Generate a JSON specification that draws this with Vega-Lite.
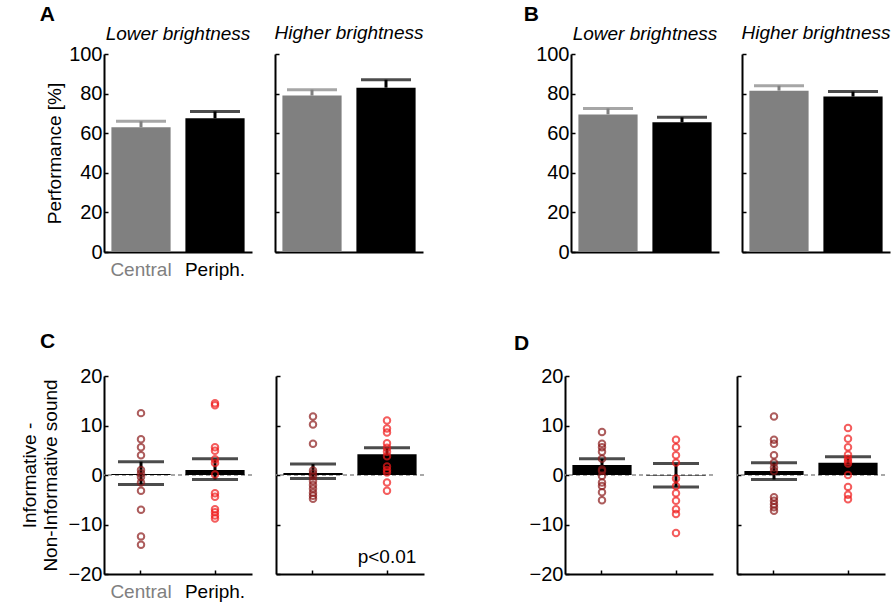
{
  "$schema": "https://vega.github.io/schema/vega-lite/v6.json",
  "padding": {"left": 20, "top": 4, "right": 4, "bottom": 4},
  "background": "white",
  "datasets": {
    "m": [
      {"p": "A", "b": "Lower", "c": "Central", "mean": 63, "hi": 66},
      {"p": "A", "b": "Lower", "c": "Periph.", "mean": 67.5, "hi": 71},
      {"p": "A", "b": "Higher", "c": "Central", "mean": 79, "hi": 82},
      {"p": "A", "b": "Higher", "c": "Periph.", "mean": 83, "hi": 87},
      {"p": "B", "b": "Lower", "c": "Central", "mean": 69.5, "hi": 72.5},
      {"p": "B", "b": "Lower", "c": "Periph.", "mean": 65.5, "hi": 68},
      {"p": "B", "b": "Higher", "c": "Central", "mean": 81.5, "hi": 84},
      {"p": "B", "b": "Higher", "c": "Periph.", "mean": 78.5, "hi": 81},
      {"p": "C", "b": "Lower", "c": "Central", "mean": 0.2, "lo": -1.9, "hi": 2.7},
      {"p": "C", "b": "Lower", "c": "Periph.", "mean": 1.0, "lo": -0.9, "hi": 3.3},
      {"p": "C", "b": "Higher", "c": "Central", "mean": 0.4, "lo": -0.7, "hi": 2.2},
      {"p": "C", "b": "Higher", "c": "Periph.", "mean": 4.2, "lo": 3.0, "hi": 5.5},
      {"p": "D", "b": "Lower", "c": "Central", "mean": 2.0, "lo": 0.7, "hi": 3.3},
      {"p": "D", "b": "Lower", "c": "Periph.", "mean": -0.1, "lo": -2.4, "hi": 2.3},
      {"p": "D", "b": "Higher", "c": "Central", "mean": 0.8, "lo": -0.9, "hi": 2.5},
      {"p": "D", "b": "Higher", "c": "Periph.", "mean": 2.5, "lo": 1.2, "hi": 3.7}
    ],
    "pts": [
      {"p": "C", "b": "Lower", "c": "Central", "v": 12.5},
      {"p": "C", "b": "Lower", "c": "Central", "v": 7.2},
      {"p": "C", "b": "Lower", "c": "Central", "v": 5.6},
      {"p": "C", "b": "Lower", "c": "Central", "v": 4.0},
      {"p": "C", "b": "Lower", "c": "Central", "v": 1.0},
      {"p": "C", "b": "Lower", "c": "Central", "v": 0.3},
      {"p": "C", "b": "Lower", "c": "Central", "v": -0.4},
      {"p": "C", "b": "Lower", "c": "Central", "v": -1.5},
      {"p": "C", "b": "Lower", "c": "Central", "v": -3.2},
      {"p": "C", "b": "Lower", "c": "Central", "v": -7.0},
      {"p": "C", "b": "Lower", "c": "Central", "v": -12.4},
      {"p": "C", "b": "Lower", "c": "Central", "v": -14.1},
      {"p": "C", "b": "Lower", "c": "Periph.", "v": 14.5},
      {"p": "C", "b": "Lower", "c": "Periph.", "v": 14.1},
      {"p": "C", "b": "Lower", "c": "Periph.", "v": 5.6},
      {"p": "C", "b": "Lower", "c": "Periph.", "v": 4.9},
      {"p": "C", "b": "Lower", "c": "Periph.", "v": 3.2},
      {"p": "C", "b": "Lower", "c": "Periph.", "v": 2.4},
      {"p": "C", "b": "Lower", "c": "Periph.", "v": 0.1},
      {"p": "C", "b": "Lower", "c": "Periph.", "v": -3.7},
      {"p": "C", "b": "Lower", "c": "Periph.", "v": -4.4},
      {"p": "C", "b": "Lower", "c": "Periph.", "v": -6.9},
      {"p": "C", "b": "Lower", "c": "Periph.", "v": -7.5},
      {"p": "C", "b": "Lower", "c": "Periph.", "v": -8.2},
      {"p": "C", "b": "Lower", "c": "Periph.", "v": -8.8},
      {"p": "C", "b": "Higher", "c": "Central", "v": 11.8},
      {"p": "C", "b": "Higher", "c": "Central", "v": 10.2},
      {"p": "C", "b": "Higher", "c": "Central", "v": 6.3},
      {"p": "C", "b": "Higher", "c": "Central", "v": 0.9},
      {"p": "C", "b": "Higher", "c": "Central", "v": 0.3},
      {"p": "C", "b": "Higher", "c": "Central", "v": -0.3},
      {"p": "C", "b": "Higher", "c": "Central", "v": -1.2},
      {"p": "C", "b": "Higher", "c": "Central", "v": -2.0},
      {"p": "C", "b": "Higher", "c": "Central", "v": -2.8},
      {"p": "C", "b": "Higher", "c": "Central", "v": -3.6},
      {"p": "C", "b": "Higher", "c": "Central", "v": -4.2},
      {"p": "C", "b": "Higher", "c": "Central", "v": -4.8},
      {"p": "C", "b": "Higher", "c": "Periph.", "v": 11.0},
      {"p": "C", "b": "Higher", "c": "Periph.", "v": 9.4},
      {"p": "C", "b": "Higher", "c": "Periph.", "v": 8.6},
      {"p": "C", "b": "Higher", "c": "Periph.", "v": 6.4},
      {"p": "C", "b": "Higher", "c": "Periph.", "v": 5.5},
      {"p": "C", "b": "Higher", "c": "Periph.", "v": 4.7},
      {"p": "C", "b": "Higher", "c": "Periph.", "v": 3.8},
      {"p": "C", "b": "Higher", "c": "Periph.", "v": 1.7},
      {"p": "C", "b": "Higher", "c": "Periph.", "v": 1.0},
      {"p": "C", "b": "Higher", "c": "Periph.", "v": 0.5},
      {"p": "C", "b": "Higher", "c": "Periph.", "v": -1.5},
      {"p": "C", "b": "Higher", "c": "Periph.", "v": -3.2},
      {"p": "D", "b": "Lower", "c": "Central", "v": 8.7},
      {"p": "D", "b": "Lower", "c": "Central", "v": 6.3},
      {"p": "D", "b": "Lower", "c": "Central", "v": 5.6},
      {"p": "D", "b": "Lower", "c": "Central", "v": 4.7},
      {"p": "D", "b": "Lower", "c": "Central", "v": 3.3},
      {"p": "D", "b": "Lower", "c": "Central", "v": 1.1},
      {"p": "D", "b": "Lower", "c": "Central", "v": 0.8},
      {"p": "D", "b": "Lower", "c": "Central", "v": -0.2},
      {"p": "D", "b": "Lower", "c": "Central", "v": -1.5},
      {"p": "D", "b": "Lower", "c": "Central", "v": -2.2},
      {"p": "D", "b": "Lower", "c": "Central", "v": -3.5},
      {"p": "D", "b": "Lower", "c": "Central", "v": -5.1},
      {"p": "D", "b": "Lower", "c": "Periph.", "v": 7.1},
      {"p": "D", "b": "Lower", "c": "Periph.", "v": 5.6},
      {"p": "D", "b": "Lower", "c": "Periph.", "v": 4.0},
      {"p": "D", "b": "Lower", "c": "Periph.", "v": 2.5},
      {"p": "D", "b": "Lower", "c": "Periph.", "v": -0.7},
      {"p": "D", "b": "Lower", "c": "Periph.", "v": -2.2},
      {"p": "D", "b": "Lower", "c": "Periph.", "v": -3.7},
      {"p": "D", "b": "Lower", "c": "Periph.", "v": -5.2},
      {"p": "D", "b": "Lower", "c": "Periph.", "v": -6.9},
      {"p": "D", "b": "Lower", "c": "Periph.", "v": -7.9},
      {"p": "D", "b": "Lower", "c": "Periph.", "v": -11.7},
      {"p": "D", "b": "Higher", "c": "Central", "v": 11.8},
      {"p": "D", "b": "Higher", "c": "Central", "v": 7.1},
      {"p": "D", "b": "Higher", "c": "Central", "v": 6.3},
      {"p": "D", "b": "Higher", "c": "Central", "v": 4.0},
      {"p": "D", "b": "Higher", "c": "Central", "v": 2.5},
      {"p": "D", "b": "Higher", "c": "Central", "v": 1.5},
      {"p": "D", "b": "Higher", "c": "Central", "v": 0.8},
      {"p": "D", "b": "Higher", "c": "Central", "v": -4.5},
      {"p": "D", "b": "Higher", "c": "Central", "v": -5.2},
      {"p": "D", "b": "Higher", "c": "Central", "v": -5.9},
      {"p": "D", "b": "Higher", "c": "Central", "v": -6.5},
      {"p": "D", "b": "Higher", "c": "Central", "v": -7.2},
      {"p": "D", "b": "Higher", "c": "Periph.", "v": 9.5},
      {"p": "D", "b": "Higher", "c": "Periph.", "v": 7.3},
      {"p": "D", "b": "Higher", "c": "Periph.", "v": 5.6},
      {"p": "D", "b": "Higher", "c": "Periph.", "v": 4.1},
      {"p": "D", "b": "Higher", "c": "Periph.", "v": 3.3},
      {"p": "D", "b": "Higher", "c": "Periph.", "v": 2.8},
      {"p": "D", "b": "Higher", "c": "Periph.", "v": 2.3},
      {"p": "D", "b": "Higher", "c": "Periph.", "v": 0.0},
      {"p": "D", "b": "Higher", "c": "Periph.", "v": -2.4},
      {"p": "D", "b": "Higher", "c": "Periph.", "v": -4.0},
      {"p": "D", "b": "Higher", "c": "Periph.", "v": -4.9}
    ]
  },
  "vconcat": [
    {
      "spacing": 99,
      "hconcat": [
        {
          "title": {"text": "A", "anchor": "start", "fontSize": 21, "fontWeight": "bold", "fontStyle": "normal", "offset": -1, "dx": -6},
          "spacing": 22,
          "hconcat": [
            {
              "width": 148, "height": 198,
              "title": {"text": "Lower brightness", "offset": 0},
              "data": {"name": "m"},
              "transform": [{"filter": "datum.p == 'A' && datum.b == 'Lower'"}],
              "encoding": {
                "x": {"field": "c", "type": "nominal", "scale": {"domain": ["Central", "Periph."], "paddingInner": 0.2, "paddingOuter": 0.1},
                  "axis": {"title": null, "labelAngle": 0, "labelColor": {"condition": {"test": "datum.value == 'Central'", "value": "#808080"}, "value": "black"}}},
                "color": {"condition": {"test": "datum.c == 'Central'", "value": "#808080"}, "value": "#000000"}
              },
              "layer": [
                {"mark": "bar", "encoding": {"y": {"field": "mean", "type": "quantitative", "scale": {"domain": [0, 100]}, "axis": {"values": [0, 20, 40, 60, 80, 100], "tickCount": 6, "title": "Performance [%]", "titlePadding": 4}}}},
                {"mark": {"type": "rule", "strokeWidth": 3}, "encoding": {"y": {"field": "mean", "type": "quantitative"}, "y2": {"field": "hi"}}},
                {"mark": {"type": "tick", "thickness": 3, "size": 50}, "encoding": {"y": {"field": "hi", "type": "quantitative"}}}
              ]
            },
            {
              "width": 148, "height": 198,
              "title": {"text": "Higher brightness", "offset": 10},
              "data": {"name": "m"},
              "transform": [{"filter": "datum.p == 'A' && datum.b == 'Higher'"}],
              "encoding": {
                "x": {"field": "c", "type": "nominal", "scale": {"domain": ["Central", "Periph."], "paddingInner": 0.2, "paddingOuter": 0.1}, "axis": {"title": null, "labels": false}},
                "color": {"condition": {"test": "datum.c == 'Central'", "value": "#808080"}, "value": "#000000"}
              },
              "layer": [
                {"mark": "bar", "encoding": {"y": {"field": "mean", "type": "quantitative", "scale": {"domain": [0, 100]}, "axis": {"values": [0, 20, 40, 60, 80, 100], "tickCount": 6, "title": null, "labels": false}}}},
                {"mark": {"type": "rule", "strokeWidth": 3}, "encoding": {"y": {"field": "mean", "type": "quantitative"}, "y2": {"field": "hi"}}},
                {"mark": {"type": "tick", "thickness": 3, "size": 50}, "encoding": {"y": {"field": "hi", "type": "quantitative"}}}
              ]
            }
          ]
        },
        {
          "title": {"text": "B", "anchor": "start", "fontSize": 21, "fontWeight": "bold", "fontStyle": "normal", "offset": -1, "dx": -12},
          "spacing": 22,
          "hconcat": [
            {
              "width": 148, "height": 198,
              "title": {"text": "Lower brightness", "offset": 0},
              "data": {"name": "m"},
              "transform": [{"filter": "datum.p == 'B' && datum.b == 'Lower'"}],
              "encoding": {
                "x": {"field": "c", "type": "nominal", "scale": {"domain": ["Central", "Periph."], "paddingInner": 0.2, "paddingOuter": 0.1}, "axis": {"title": null, "labels": false}},
                "color": {"condition": {"test": "datum.c == 'Central'", "value": "#808080"}, "value": "#000000"}
              },
              "layer": [
                {"mark": "bar", "encoding": {"y": {"field": "mean", "type": "quantitative", "scale": {"domain": [0, 100]}, "axis": {"values": [0, 20, 40, 60, 80, 100], "tickCount": 6, "title": null}}}},
                {"mark": {"type": "rule", "strokeWidth": 3}, "encoding": {"y": {"field": "mean", "type": "quantitative"}, "y2": {"field": "hi"}}},
                {"mark": {"type": "tick", "thickness": 3, "size": 50}, "encoding": {"y": {"field": "hi", "type": "quantitative"}}}
              ]
            },
            {
              "width": 148, "height": 198,
              "title": {"text": "Higher brightness", "offset": 10},
              "data": {"name": "m"},
              "transform": [{"filter": "datum.p == 'B' && datum.b == 'Higher'"}],
              "encoding": {
                "x": {"field": "c", "type": "nominal", "scale": {"domain": ["Central", "Periph."], "paddingInner": 0.2, "paddingOuter": 0.1}, "axis": {"title": null, "labels": false}},
                "color": {"condition": {"test": "datum.c == 'Central'", "value": "#808080"}, "value": "#000000"}
              },
              "layer": [
                {"mark": "bar", "encoding": {"y": {"field": "mean", "type": "quantitative", "scale": {"domain": [0, 100]}, "axis": {"values": [0, 20, 40, 60, 80, 100], "tickCount": 6, "title": null, "labels": false}}}},
                {"mark": {"type": "rule", "strokeWidth": 3}, "encoding": {"y": {"field": "mean", "type": "quantitative"}, "y2": {"field": "hi"}}},
                {"mark": {"type": "tick", "thickness": 3, "size": 50}, "encoding": {"y": {"field": "hi", "type": "quantitative"}}}
              ]
            }
          ]
        }
      ]
    },
    {
      "spacing": 89,
      "hconcat": [
        {
          "title": {"text": "C", "anchor": "start", "fontSize": 21, "fontWeight": "bold", "fontStyle": "normal", "offset": 14, "dx": 20},
          "spacing": 22,
          "hconcat": [
            {
              "width": 148, "height": 198,
              "data": {"name": "m"},
              "transform": [{"filter": "datum.p == 'C' && datum.b == 'Lower'"}],
              "layer": [
                {"mark": {"type": "rule", "color": "#8c8c8c", "strokeDash": [4, 3], "strokeWidth": 1.2}, "encoding": {"y": {"datum": 0, "type": "quantitative"}}},
                {"mark": {"type": "bar", "color": "black"}, "encoding": {
                  "x": {"field": "c", "type": "nominal", "scale": {"domain": ["Central", "Periph."], "paddingInner": 0.2, "paddingOuter": 0.1},
                    "axis": {"title": null, "labelAngle": 0, "labelColor": {"condition": {"test": "datum.value == 'Central'", "value": "#808080"}, "value": "black"}}},
                  "y": {"field": "mean", "type": "quantitative", "scale": {"domain": [-20, 20]}, "axis": {"values": [-20, -10, 0, 10, 20], "tickCount": 5, "title": ["Informative -", "Non-Informative sound"], "titlePadding": 8}}}},
                {"mark": {"type": "rule", "color": "black", "strokeWidth": 3}, "encoding": {"x": {"field": "c", "type": "nominal"}, "y": {"field": "lo", "type": "quantitative"}, "y2": {"field": "hi"}}},
                {"mark": {"type": "tick", "color": "black", "thickness": 3, "size": 46}, "encoding": {"x": {"field": "c", "type": "nominal"}, "y": {"field": "lo", "type": "quantitative"}}},
                {"mark": {"type": "tick", "color": "black", "thickness": 3, "size": 46}, "encoding": {"x": {"field": "c", "type": "nominal"}, "y": {"field": "hi", "type": "quantitative"}}},
                {"data": {"name": "pts"}, "transform": [{"filter": "datum.p == 'C' && datum.b == 'Lower'"}],
                  "mark": {"type": "point", "shape": "circle", "filled": false, "size": 42, "strokeWidth": 2},
                  "encoding": {"x": {"field": "c", "type": "nominal"}, "y": {"field": "v", "type": "quantitative"},
                    "color": {"condition": {"test": "datum.c == 'Central'", "value": "#8b1a1a"}, "value": "#f01a1a"}}}
              ]
            },
            {
              "width": 148, "height": 198,
              "data": {"name": "m"},
              "transform": [{"filter": "datum.p == 'C' && datum.b == 'Higher'"}],
              "layer": [
                {"mark": {"type": "rule", "color": "#8c8c8c", "strokeDash": [4, 3], "strokeWidth": 1.2}, "encoding": {"y": {"datum": 0, "type": "quantitative"}}},
                {"mark": {"type": "bar", "color": "black"}, "encoding": {
                  "x": {"field": "c", "type": "nominal", "scale": {"domain": ["Central", "Periph."], "paddingInner": 0.2, "paddingOuter": 0.1}, "axis": {"title": null, "labels": false}},
                  "y": {"field": "mean", "type": "quantitative", "scale": {"domain": [-20, 20]}, "axis": {"values": [-20, -10, 0, 10, 20], "tickCount": 5, "title": null, "labels": false}}}},
                {"mark": {"type": "rule", "color": "black", "strokeWidth": 3}, "encoding": {"x": {"field": "c", "type": "nominal"}, "y": {"field": "lo", "type": "quantitative"}, "y2": {"field": "hi"}}},
                {"mark": {"type": "tick", "color": "black", "thickness": 3, "size": 46}, "encoding": {"x": {"field": "c", "type": "nominal"}, "y": {"field": "lo", "type": "quantitative"}}},
                {"mark": {"type": "tick", "color": "black", "thickness": 3, "size": 46}, "encoding": {"x": {"field": "c", "type": "nominal"}, "y": {"field": "hi", "type": "quantitative"}}},
                {"data": {"name": "pts"}, "transform": [{"filter": "datum.p == 'C' && datum.b == 'Higher'"}],
                  "mark": {"type": "point", "shape": "circle", "filled": false, "size": 42, "strokeWidth": 2},
                  "encoding": {"x": {"field": "c", "type": "nominal"}, "y": {"field": "v", "type": "quantitative"},
                    "color": {"condition": {"test": "datum.c == 'Central'", "value": "#8b1a1a"}, "value": "#f01a1a"}}},
                {"data": {"values": [{"t": "p<0.01"}]},
                  "mark": {"type": "text", "fontSize": 19, "color": "black"},
                  "encoding": {"x": {"datum": "Periph.", "type": "nominal"}, "y": {"datum": -16.5, "type": "quantitative"}, "text": {"field": "t"}}}
              ]
            }
          ]
        },
        {
          "title": {"text": "D", "anchor": "start", "fontSize": 21, "fontWeight": "bold", "fontStyle": "normal", "offset": 12, "dx": -15},
          "spacing": 22,
          "hconcat": [
            {
              "width": 148, "height": 198,
              "data": {"name": "m"},
              "transform": [{"filter": "datum.p == 'D' && datum.b == 'Lower'"}],
              "layer": [
                {"mark": {"type": "rule", "color": "#8c8c8c", "strokeDash": [4, 3], "strokeWidth": 1.2}, "encoding": {"y": {"datum": 0, "type": "quantitative"}}},
                {"mark": {"type": "bar", "color": "black"}, "encoding": {
                  "x": {"field": "c", "type": "nominal", "scale": {"domain": ["Central", "Periph."], "paddingInner": 0.2, "paddingOuter": 0.1}, "axis": {"title": null, "labels": false}},
                  "y": {"field": "mean", "type": "quantitative", "scale": {"domain": [-20, 20]}, "axis": {"values": [-20, -10, 0, 10, 20], "tickCount": 5, "title": null}}}},
                {"mark": {"type": "rule", "color": "black", "strokeWidth": 3}, "encoding": {"x": {"field": "c", "type": "nominal"}, "y": {"field": "lo", "type": "quantitative"}, "y2": {"field": "hi"}}},
                {"mark": {"type": "tick", "color": "black", "thickness": 3, "size": 46}, "encoding": {"x": {"field": "c", "type": "nominal"}, "y": {"field": "lo", "type": "quantitative"}}},
                {"mark": {"type": "tick", "color": "black", "thickness": 3, "size": 46}, "encoding": {"x": {"field": "c", "type": "nominal"}, "y": {"field": "hi", "type": "quantitative"}}},
                {"data": {"name": "pts"}, "transform": [{"filter": "datum.p == 'D' && datum.b == 'Lower'"}],
                  "mark": {"type": "point", "shape": "circle", "filled": false, "size": 42, "strokeWidth": 2},
                  "encoding": {"x": {"field": "c", "type": "nominal"}, "y": {"field": "v", "type": "quantitative"},
                    "color": {"condition": {"test": "datum.c == 'Central'", "value": "#8b1a1a"}, "value": "#f01a1a"}}}
              ]
            },
            {
              "width": 148, "height": 198,
              "data": {"name": "m"},
              "transform": [{"filter": "datum.p == 'D' && datum.b == 'Higher'"}],
              "layer": [
                {"mark": {"type": "rule", "color": "#8c8c8c", "strokeDash": [4, 3], "strokeWidth": 1.2}, "encoding": {"y": {"datum": 0, "type": "quantitative"}}},
                {"mark": {"type": "bar", "color": "black"}, "encoding": {
                  "x": {"field": "c", "type": "nominal", "scale": {"domain": ["Central", "Periph."], "paddingInner": 0.2, "paddingOuter": 0.1}, "axis": {"title": null, "labels": false}},
                  "y": {"field": "mean", "type": "quantitative", "scale": {"domain": [-20, 20]}, "axis": {"values": [-20, -10, 0, 10, 20], "tickCount": 5, "title": null, "labels": false}}}},
                {"mark": {"type": "rule", "color": "black", "strokeWidth": 3}, "encoding": {"x": {"field": "c", "type": "nominal"}, "y": {"field": "lo", "type": "quantitative"}, "y2": {"field": "hi"}}},
                {"mark": {"type": "tick", "color": "black", "thickness": 3, "size": 46}, "encoding": {"x": {"field": "c", "type": "nominal"}, "y": {"field": "lo", "type": "quantitative"}}},
                {"mark": {"type": "tick", "color": "black", "thickness": 3, "size": 46}, "encoding": {"x": {"field": "c", "type": "nominal"}, "y": {"field": "hi", "type": "quantitative"}}},
                {"data": {"name": "pts"}, "transform": [{"filter": "datum.p == 'D' && datum.b == 'Higher'"}],
                  "mark": {"type": "point", "shape": "circle", "filled": false, "size": 42, "strokeWidth": 2},
                  "encoding": {"x": {"field": "c", "type": "nominal"}, "y": {"field": "v", "type": "quantitative"},
                    "color": {"condition": {"test": "datum.c == 'Central'", "value": "#8b1a1a"}, "value": "#f01a1a"}}}
              ]
            }
          ]
        }
      ]
    }
  ],
  "spacing": 52,
  "config": {
    "font": "Liberation Sans",
    "view": {"stroke": null},
    "axis": {
      "domainColor": "black", "domainWidth": 2, "tickColor": "black", "tickWidth": 1.5, "tickSize": -4,
      "labelFontSize": 19, "labelColor": "black", "labelPadding": 6, "labelFont": "Liberation Sans", "labelOverlap": false,
      "titleFontSize": 19, "titleFontWeight": "normal", "titleColor": "black", "titleFont": "Liberation Sans", "grid": false
    },
    "axisX": {"labelPadding": 12},
    "axisY": {"labelFontSize": 20},
    "title": {"fontSize": 19, "fontStyle": "italic", "fontWeight": "normal", "color": "black", "offset": 10, "font": "Liberation Sans"}
  }
}
